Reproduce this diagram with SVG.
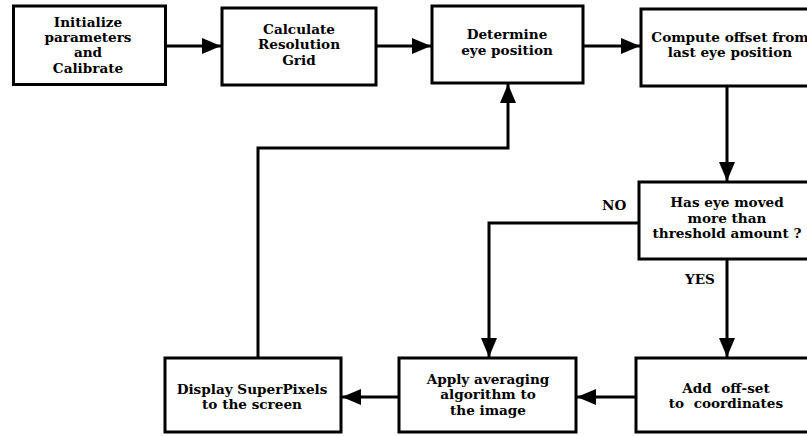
<svg xmlns="http://www.w3.org/2000/svg" width="807" height="436" viewBox="0 0 807 436">
<style>
.box{fill:#fff;stroke:#000;stroke-width:3}
.t{font-family:"DejaVu Serif","Liberation Serif",serif;font-weight:bold;font-size:13.6px;text-anchor:middle;fill:#000}
.lbl{font-family:"DejaVu Serif","Liberation Serif",serif;font-weight:bold;font-size:13.6px;fill:#000}
.c{fill:none;stroke:#000;stroke-width:3}
</style>
<defs>
<marker id="ah" markerUnits="userSpaceOnUse" markerWidth="20" markerHeight="18" refX="19" refY="8" orient="auto">
<path d="M0,0 L19,8 L0,16 Z" fill="#000"/>
</marker>
</defs>
<rect width="807" height="436" fill="#fff"/>
<g id="connectors">
<line class="c" x1="166" y1="46" x2="221" y2="46" marker-end="url(#ah)"/>
<line class="c" x1="377" y1="46" x2="431" y2="46" marker-end="url(#ah)"/>
<line class="c" x1="584" y1="46" x2="640" y2="46" marker-end="url(#ah)"/>
<line class="c" x1="727" y1="87" x2="727" y2="181" marker-end="url(#ah)"/>
<line class="c" x1="727" y1="260" x2="727" y2="357" marker-end="url(#ah)"/>
<polyline class="c" points="638,223 489,223 489,357" marker-end="url(#ah)"/>
<line class="c" x1="635" y1="397" x2="577" y2="397" marker-end="url(#ah)"/>
<line class="c" x1="398" y1="397" x2="342" y2="397" marker-end="url(#ah)"/>
<polyline class="c" points="258,357 258,148 508,148 508,84" marker-end="url(#ah)"/>
<text class="lbl" x="602" y="210">NO</text>
<text class="lbl" x="685" y="284">YES</text>
</g>
<g id="n1">
<rect class="box" x="13.5" y="6" width="152" height="78.5"/>
<text class="t" x="88" y="27">Initialize</text>
<text class="t" x="88" y="42">parameters</text>
<text class="t" x="88" y="57">and</text>
<text class="t" x="88" y="73">Calibrate</text>
</g>
<g id="n2">
<rect class="box" x="222" y="8" width="154" height="77"/>
<text class="t" x="299" y="34">Calculate</text>
<text class="t" x="299" y="49">Resolution</text>
<text class="t" x="299" y="65">Grid</text>
</g>
<g id="n3">
<rect class="box" x="432" y="6" width="151" height="77"/>
<text class="t" x="507" y="39">Determine</text>
<text class="t" x="507" y="55">eye position</text>
</g>
<g id="n4">
<rect class="box" x="641" y="9" width="180" height="77"/>
<text class="t" x="730" y="42">Compute offset from</text>
<text class="t" x="730" y="57">last eye position</text>
</g>
<g id="n5">
<rect class="box" x="639" y="182" width="180" height="77"/>
<text class="t" x="727" y="207">Has eye moved</text>
<text class="t" x="727" y="223">more than</text>
<text class="t" x="727" y="238">threshold amount ?</text>
</g>
<g id="n6">
<rect class="box" x="636" y="358" width="185" height="74"/>
<text class="t" x="726" y="393" xml:space="preserve">Add  off-set</text>
<text class="t" x="726" y="408" xml:space="preserve">to  coordinates</text>
</g>
<g id="n7">
<rect class="box" x="399" y="358" width="177" height="74"/>
<text class="t" x="488" y="384">Apply averaging</text>
<text class="t" x="488" y="399">algorithm to</text>
<text class="t" x="488" y="415">the image</text>
</g>
<g id="n8">
<rect class="box" x="165" y="358" width="176" height="74"/>
<text class="t" x="252" y="394">Display SuperPixels</text>
<text class="t" x="252" y="409">to the screen</text>
</g>
</svg>
